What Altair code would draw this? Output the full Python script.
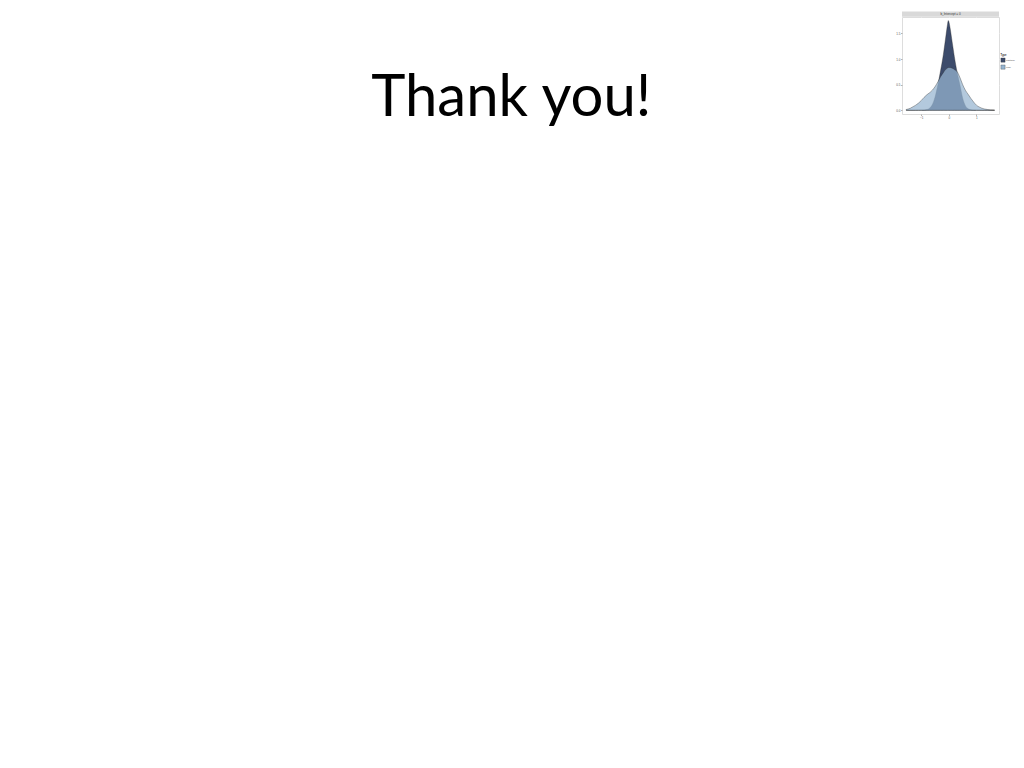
import altair as alt
import pandas as pd

# --- data ---
xs = [-1.55, -1.4, -1.3, -1.2, -1.1, -1.0, -0.9, -0.8, -0.7, -0.6, -0.5, -0.4,
      -0.3, -0.2, -0.15, -0.1, -0.05, -0.02, 0.0, 0.05, 0.1, 0.15, 0.2, 0.3,
      0.4, 0.5, 0.6, 0.7, 0.8, 0.9, 1.0, 1.1, 1.2, 1.3, 1.4, 1.5, 1.66]
posterior = [0.0, 0.0, 0.0, 0.001, 0.002, 0.003, 0.006, 0.014, 0.04, 0.11, 0.26,
             0.49, 0.77, 1.08, 1.27, 1.47, 1.66, 1.74, 1.72, 1.58, 1.40, 1.22,
             1.04, 0.74, 0.50, 0.24, 0.09, 0.03, 0.012, 0.005, 0.003, 0.002,
             0.001, 0.0, 0.0, 0.0, 0.0]
prior = [0.015, 0.04, 0.07, 0.10, 0.14, 0.19, 0.25, 0.30, 0.34, 0.39, 0.46, 0.55,
         0.65, 0.73, 0.77, 0.80, 0.82, 0.83, 0.83, 0.83, 0.82, 0.81, 0.79, 0.75,
         0.64, 0.50, 0.39, 0.31, 0.23, 0.16, 0.10, 0.065, 0.04, 0.025, 0.015,
         0.008, 0.003]
types = ["Posterior", "Prior"]
x_ticks = [-1, 0, 1]
y_ticks = [0.0, 0.5, 1.0, 1.5]
strip_label = "b_Intercept = 0"
slide_title = "Thank you!"

rows = []
for t, ys in zip(types, [posterior, prior]):
    for x, y in zip(xs, ys):
        rows.append({"x": x, "density": y, "Type": t})
df = pd.DataFrame(rows)

W, H = 97, 97

color = alt.Color(
    "Type:N",
    scale=alt.Scale(domain=types, range=["#3c4b6b", "#97b5d1"]),
    legend=alt.Legend(
        title="Type", orient="none", legendX=98.5, legendY=37,
        titleFontSize=2.6, labelFontSize=2.1, symbolType="square", symbolSize=18,
        titleColor="#333", labelColor="#333", titlePadding=1, rowPadding=0,
        symbolStrokeWidth=0.3, symbolStrokeColor="#333", labelOffset=0.8,
        titleFont="Liberation Sans", labelFont="Liberation Sans", padding=0,
    ),
)

xenc = alt.X("x:Q", scale=alt.Scale(domain=[-1.70, 1.82], nice=False, zero=False),
             axis=alt.Axis(values=x_ticks, title=None, labelFontSize=3, tickSize=1.5,
                           labelColor="#555", tickColor="#444", tickWidth=0.4,
                           domain=False, gridColor="white", gridWidth=0.5,
                           labelPadding=0.5, labelFont="Liberation Sans"))
yenc = alt.Y("density:Q", scale=alt.Scale(domain=[-0.072, 1.81], nice=False, zero=False),
             axis=alt.Axis(values=y_ticks, format=".1f", title=None, labelFontSize=3,
                           tickSize=1.5, labelColor="#555", tickColor="#444",
                           tickWidth=0.4, domain=False, gridColor="white",
                           gridWidth=0.5, labelPadding=0.5, labelFont="Liberation Sans"))

post_layer = alt.Chart(df).transform_filter(alt.datum.Type == "Posterior").mark_area(
    interpolate="monotone", stroke="#222", strokeWidth=0.35, opacity=1
).encode(x=xenc, y=yenc, y2=alt.datum(0), color=color)

prior_layer = alt.Chart(df).transform_filter(alt.datum.Type == "Prior").mark_area(
    interpolate="monotone", stroke="#222", strokeWidth=0.35, fillOpacity=0.73
).encode(x=xenc, y=yenc, y2=alt.datum(0), color=color)

strip = alt.Chart(pd.DataFrame({"s": [strip_label]})).mark_rect(color="#d9d9d9").encode(
    x=alt.value(0), x2=alt.value(W), y=alt.value(-5.5), y2=alt.value(-0.3)
)
strip_text = alt.Chart(pd.DataFrame({"s": [strip_label]})).mark_text(
    fontSize=3, color="#333", font="Liberation Sans", baseline="middle"
).encode(x=alt.value(W / 2), y=alt.value(-3), text="s:N")

title_text = alt.Chart(pd.DataFrame({"t": [slide_title]})).mark_text(
    fontSize=58, color="#000", font="Lato", baseline="alphabetic", align="center"
).encode(x=alt.value(511 - 901.7), y=alt.value(116 - 17), text="t:N")

chart = alt.layer(post_layer, prior_layer, strip, strip_text, title_text).properties(
    width=W, height=H,
    autosize=alt.AutoSizeParams(type="none"),
    padding={"left": 894, "top": 9, "right": 17, "bottom": 20},
).configure_view(fill="#ebebeb", stroke=None).configure(background="white")

chart.save("out.html", embed_options={"renderer": "svg", "actions": False})
